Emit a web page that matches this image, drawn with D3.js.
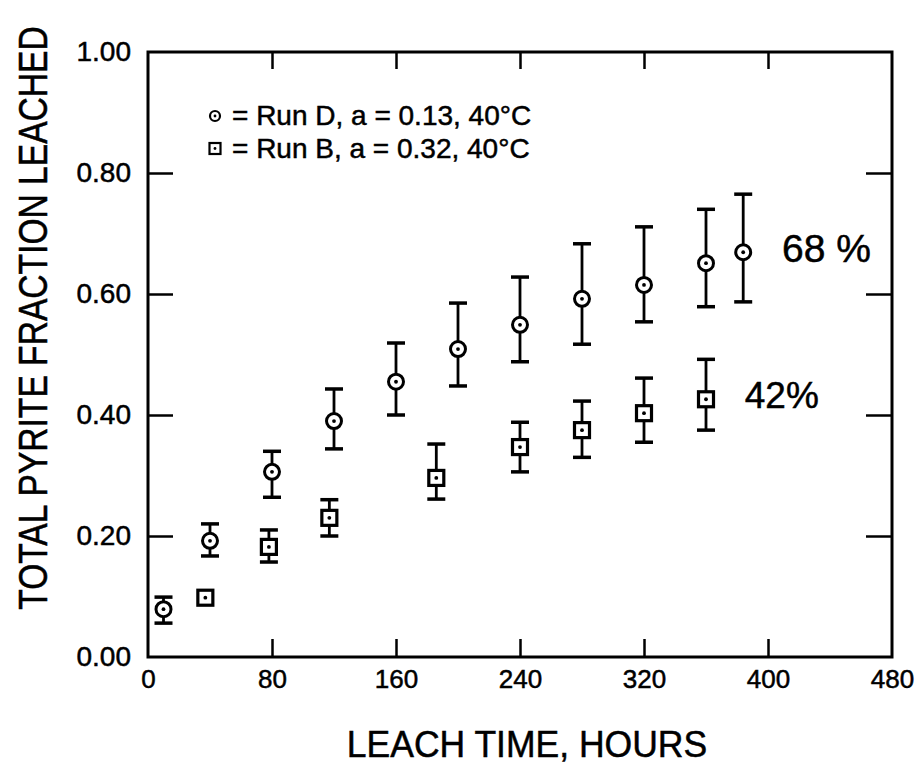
<!DOCTYPE html>
<html>
<head>
<meta charset="utf-8">
<script src="https://cdn.jsdelivr.net/npm/d3@7"></script>
<style>
body { margin: 0; background: #fff; }
text { font-family: "Liberation Sans", Arial, sans-serif; fill: #000; stroke: #000; stroke-width: 0.5; }
</style>
</head>
<body>
<svg id="chart"></svg>
<script>
// Run D, circles
const runDHours = [10, 40, 80, 120, 160, 200, 240, 280, 320, 360, 384];
const runDFrac  = [0.079, 0.192, 0.306, 0.390, 0.455, 0.509, 0.549, 0.592, 0.615, 0.651, 0.669];
const runDLow   = [0.056, 0.167, 0.264, 0.344, 0.400, 0.448, 0.488, 0.517, 0.554, 0.579, 0.587];
const runDHigh  = [0.099, 0.220, 0.340, 0.443, 0.519, 0.585, 0.628, 0.683, 0.711, 0.740, 0.765];

// Run B, squares (first point has no bar)
const runBHours = [37, 78, 117, 186, 240, 280, 320, 360];
const runBFrac  = [0.098, 0.182, 0.230, 0.296, 0.347, 0.375, 0.403, 0.426];
const runBLow   = [null, 0.157, 0.200, 0.261, 0.306, 0.330, 0.355, 0.375];
const runBHigh  = [null, 0.210, 0.260, 0.352, 0.388, 0.423, 0.461, 0.492];

const xTicks = [0, 80, 160, 240, 320, 400, 480];
const yTicks = [0, 0.2, 0.4, 0.6, 0.8, 1.0];

const legendLabels = ["= Run D, a = 0.13, 40°C", "= Run B, a = 0.32, 40°C"];
const endLabels = ["68 %", "42%"];
const endLabelHours = [409, 385];
const endLabelFrac = [0.653, 0.412];

const margin = {top: 52, left: 148};
const width = 744;
const height = 605;

const svg = d3.select("#chart")
    .attr("width", 923)
    .attr("height", 770);

svg.append("rect")
    .attr("width", 923)
    .attr("height", 770)
    .attr("fill", "#fff");

const g = svg.append("g")
    .attr("transform", `translate(${margin.left},${margin.top})`);

const xscale = d3.scaleLinear().domain([0, 480]).range([0, width]);
const yscale = d3.scaleLinear().domain([0, 1]).range([height, 0]);

// axes, ticks pointing inward
const xaxis = d3.axisBottom(xscale).tickValues(xTicks).tickFormat(d3.format("d"))
    .tickSizeInner(-18).tickSizeOuter(0).tickPadding(12.5);
const xaxisTop = d3.axisTop(xscale).tickValues(xTicks.slice(1, -1)).tickFormat("")
    .tickSizeInner(-17).tickSizeOuter(0);
const yaxis = d3.axisLeft(yscale).tickValues(yTicks).tickFormat(d3.format(".2f"))
    .tickSizeInner(-25).tickSizeOuter(0).tickPadding(17);
const yaxisRight = d3.axisRight(yscale).tickValues(yTicks.slice(1, -1)).tickFormat("")
    .tickSizeInner(-26).tickSizeOuter(0);

const gx = g.append("g").attr("transform", `translate(0,${height})`).call(xaxis);
const gxt = g.append("g").call(xaxisTop);
const gy = g.append("g").call(yaxis);
const gyr = g.append("g").attr("transform", `translate(${width},0)`).call(yaxisRight);

[gx, gxt, gy, gyr].forEach(a => {
    a.select(".domain").remove();
    a.selectAll(".tick line").attr("stroke", "#000").attr("stroke-width", 2.5);
});
gx.selectAll("text").attr("font-size", 26).style("font-family", "Liberation Sans, Arial, sans-serif").attr("fill", "#000");
gy.selectAll("text").attr("font-size", 28).style("font-family", "Liberation Sans, Arial, sans-serif").attr("fill", "#000");
gy.selectAll(".tick line").filter(d => d === 0 || d === 1).remove();
gx.selectAll(".tick line").filter(d => d === 0 || d === 480).remove();

// frame
g.append("rect")
    .attr("width", width)
    .attr("height", height)
    .attr("fill", "none")
    .attr("stroke", "#000")
    .attr("stroke-width", 3);

function drawSeries(hours, frac, low, high, shape) {
    const pts = hours.map((h, i) => ({h: h, v: frac[i], lo: low[i], hi: high[i]}));
    const bars = pts.filter(d => d.lo !== null);
    const cap = 9;

    g.selectAll(null).data(bars).join("line")
        .attr("x1", d => xscale(d.h)).attr("x2", d => xscale(d.h))
        .attr("y1", d => yscale(d.lo)).attr("y2", d => yscale(d.hi))
        .attr("stroke", "#000").attr("stroke-width", 2.8);
    ["lo", "hi"].forEach(k => {
        g.selectAll(null).data(bars).join("line")
            .attr("x1", d => xscale(d.h) - cap).attr("x2", d => xscale(d.h) + cap)
            .attr("y1", d => yscale(d[k])).attr("y2", d => yscale(d[k]))
            .attr("stroke", "#000").attr("stroke-width", 3.5);
    });

    if (shape === "circle") {
        g.selectAll(null).data(pts).join("circle")
            .attr("cx", d => xscale(d.h)).attr("cy", d => yscale(d.v))
            .attr("r", 7.5).attr("fill", "#fff").attr("stroke", "#000").attr("stroke-width", 3);
    } else {
        g.selectAll(null).data(pts).join("rect")
            .attr("x", d => xscale(d.h) - 7.5).attr("y", d => yscale(d.v) - 7.5)
            .attr("width", 15).attr("height", 15)
            .attr("fill", "#fff").attr("stroke", "#000").attr("stroke-width", 3.2);
    }
    g.selectAll(null).data(pts).join("circle")
        .attr("cx", d => xscale(d.h)).attr("cy", d => yscale(d.v))
        .attr("r", 1.9).attr("fill", "#000");
}

drawSeries(runDHours, runDFrac, runDLow, runDHigh, "circle");
drawSeries(runBHours, runBFrac, runBLow, runBHigh, "square");

// end labels
g.selectAll(null).data(endLabels).join("text")
    .attr("x", (d, i) => xscale(endLabelHours[i]))
    .attr("y", (d, i) => yscale(endLabelFrac[i]))
    .attr("font-size", (d, i) => i === 0 ? 39 : 37)
    .text(d => d);

// legend
const legend = svg.append("g");
legend.append("circle").attr("cx", 215).attr("cy", 116).attr("r", 5)
    .attr("fill", "#fff").attr("stroke", "#000").attr("stroke-width", 2.2);
legend.append("circle").attr("cx", 215).attr("cy", 116).attr("r", 1.4).attr("fill", "#000");
legend.append("rect").attr("x", 209.5).attr("y", 143).attr("width", 11).attr("height", 11)
    .attr("fill", "#fff").attr("stroke", "#000").attr("stroke-width", 2.2);
legend.append("circle").attr("cx", 215).attr("cy", 148.5).attr("r", 1.4).attr("fill", "#000");
legend.selectAll(null).data(legendLabels).join("text")
    .attr("x", 232)
    .attr("y", (d, i) => 125 + i * 33)
    .attr("font-size", 28)
    .text(d => d);

// axis titles
svg.append("text")
    .attr("text-anchor", "middle")
    .attr("transform", "translate(527,757) scale(0.96,1)")
    .attr("font-size", 37)
    .text("LEACH TIME, HOURS");

// condensed lettering: squeeze along the reading direction
svg.append("text")
    .attr("text-anchor", "middle")
    .attr("transform", "translate(47,318) rotate(-90) scale(0.84,1)")
    .attr("font-size", 40)
    .text("TOTAL PYRITE FRACTION LEACHED");
</script>
</body>
</html>
